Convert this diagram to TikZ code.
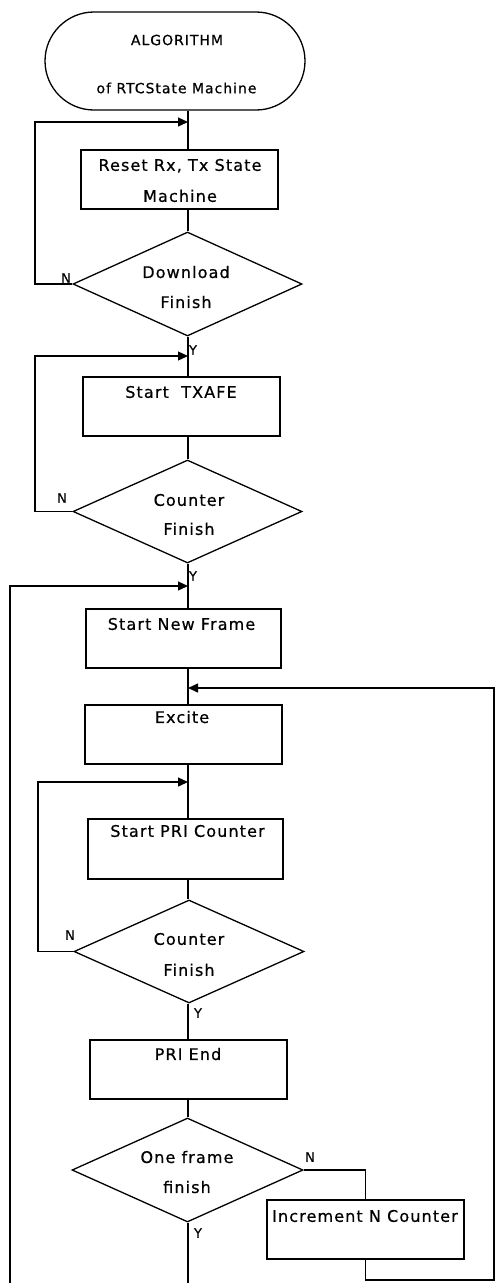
\documentclass[tikz,border=0pt]{standalone}
\usepackage{fontspec}
\newfontfamily\flowfont{DejaVu Sans}[LetterSpace=7, FakeBold=0.6]
\usetikzlibrary{shapes.geometric, arrows.meta}

\tikzset{
  terminal/.style={draw, rounded corners=49pt, minimum width=260pt, minimum height=98pt, inner sep=0pt},
  procbox/.style={draw, minimum width=197pt, minimum height=59pt, inner sep=0pt},
  decision/.style={draw, diamond, minimum width=229pt, minimum height=104pt, inner sep=0pt},
  boxtext/.style={font=\flowfont\fontsize{16}{31}\selectfont, align=center, inner sep=0pt},
  titletext/.style={font=\flowfont\fontsize{14}{16}\selectfont, inner sep=0pt},
  flag/.style={font=\flowfont\fontsize{13}{15}\selectfont, inner sep=0pt},
  feedback/.style={draw, -{Triangle[length=10pt, width=9pt]}},
}

\begin{document}
\begin{tikzpicture}[x=1pt, y=-1pt, line width=1.3pt, line join=miter]
\useasboundingbox (0,0) rectangle (496,1283);

% start terminal
\node[terminal] (term) at (175,61) {};
\node[titletext] (termA) at (177,40) {ALGORITHM};
\node[titletext] (termB) at (176.5,88) {of RTCState Machine};

% process boxes
\node[procbox] (box1) at (179.5,179.5) {};
\node[procbox] (box2) at (181.5,406.5) {};
\node[procbox, minimum width=195pt] (box3) at (183.5,638.5) {};
\node[procbox] (box4) at (183.5,734.5) {};
\node[procbox, minimum height=60pt, minimum width=195pt] (box5) at (185.5,849) {};
\node[procbox] (box6) at (188.5,1069.5) {};
\node[procbox] (box7) at (365.5,1229.5) {};

\node[boxtext] (t1) at (180,180.5) {Reset Rx, Tx State\\Machine};
\node[boxtext] (t2) at (181,392) {Start~ TXAFE};
\node[boxtext] (t3) at (181.5,624) {Start New Frame};
\node[boxtext] (t4) at (182,717) {Excite};
\node[boxtext] (t5) at (187.5,831) {Start PRI Counter};
\node[boxtext] (t6) at (188,1054) {PRI End};
\node[boxtext] (t7) at (365,1216) {Increment N Counter};

% decisions
\node[decision] (d1) at (187.5,284) {};
\node[decision, minimum height=103pt] (d2) at (187.5,511.5) {};
\node[decision, minimum width=230pt, minimum height=103pt] (d3) at (189,951.5) {};
\node[decision, minimum width=231pt] (d4) at (187.5,1170) {};

\node[boxtext, font=\flowfont\fontsize{16}{30}\selectfont] (dt1) at (186,287) {Download\\Finish};
\node[boxtext, font=\flowfont\fontsize{16}{29}\selectfont] (dt2) at (189,514.5) {Counter\\Finish};
\node[boxtext, font=\flowfont\fontsize{16}{31}\selectfont] (dt3) at (189,954.5) {Counter\\Finish};
\node[boxtext, font=\flowfont\fontsize{16}{30}\selectfont] (dt4) at (187,1172) {One frame\\finish};

% branch flags
\node[flag] (n1) at (66,278) {N};
\node[flag] (y1) at (193,350) {Y};
\node[flag] (n2) at (62,498) {N};
\node[flag] (y2) at (193,576) {Y};
\node[flag] (n3) at (70,935) {N};
\node[flag] (y3) at (198,1013) {Y};
\node[flag] (n4) at (310,1157) {N};
\node[flag] (y4) at (198,1233) {Y};

% junction points on the main line and loop corners
\coordinate (j1) at (188,122);  \coordinate (k1) at (35,122);
\coordinate (j2) at (188,356);  \coordinate (k2) at (35,356);
\coordinate (j3) at (188,586);  \coordinate (k3) at (10,586);
\coordinate (j4) at (188,688);  \coordinate (k4) at (494,688);
\coordinate (j5) at (188,782);  \coordinate (k5) at (38,782);
\coordinate (bl) at (10,1283);
\coordinate (br) at (494,1280);
\coordinate (bc) at (188,1283);

% main downward flow
\draw (term.south -| j1) -- (box1.north -| j1);
\draw (box1.south -| j1) -- (d1.north -| j1);
\draw (d1.south -| j1) -- (box2.north -| j1);
\draw (box2.south -| j1) -- (d2.north -| j1);
\draw (d2.south -| j1) -- (box3.north -| j1);
\draw (box3.south -| j1) -- (box4.north -| j1);
\draw (box4.south -| j1) -- (box5.north -| j1);
\draw (box5.south -| j1) -- (d3.north -| j1);
\draw (d3.south -| j1) -- (box6.north -| j1);
\draw (box6.south -| j1) -- (d4.north -| j1);
\draw (d4.south -| j1) -- (bc);

% "no" branches looping back
\draw[feedback] (d1.west) -| (k1) -- (j1);
\draw[feedback] (d2.west) -| (k2) -- (j2);
\draw[feedback] (d3.west) -| (k5) -- (j5);
\draw (d4.east) -| (box7.north);

% frame loops
\draw[feedback] (bl) -- (k3) -- (j3);
\draw[feedback] (box7.south) |- (br) -- (k4) -- (j4);
\end{tikzpicture}
\end{document}
